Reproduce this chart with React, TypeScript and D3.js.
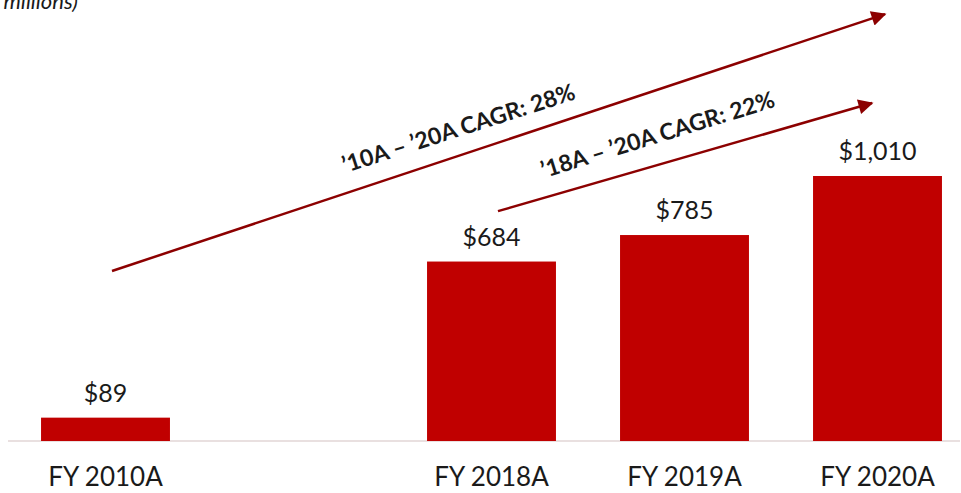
import React from "react";
import * as d3 from "d3";

const categories = ["FY 2010A", "", "FY 2018A", "FY 2019A", "FY 2020A"];
const values: (number | null)[] = [89, null, 684, 785, 1010];
const valueLabels = ["$89", "", "$684", "$785", "$1,010"];
const unitNote = "(US$ in millions)";

// CAGR annotations: [fromCategory, fromValue, toCategory, toValue, label]
const cagrFrom = ["FY 2010A", "FY 2018A"];
const cagrTo = ["FY 2020A", "FY 2020A"];
const cagrFromValues = [648, 876];
const cagrToValues = [1627, 1288];
const cagrLabels = ["\u201910A \u2013 \u201920A CAGR: 28%", "\u201918A \u2013 \u201920A CAGR: 22%"];

const W = 961;
const H = 493;
const FONT = "Lato, 'Open Sans', sans-serif";

export default function App() {
  const x = d3
    .scaleBand<string>()
    .domain(categories.map((c, i) => c || `gap${i}`))
    .range([9, 974])
    .paddingInner(0.332)
    .paddingOuter(0.166);
  const y = d3.scaleLinear().domain([0, 1010]).range([441, 176]);
  const key = (c: string, i: number) => c || `gap${i}`;
  const cx = (c: string) => (x(c) as number) + x.bandwidth() / 2;

  const arrowOffsets = [
    [6.5, 7.5],
    [6.5, -5.5],
  ];
  const textOffsets = [19, 22];

  return (
    <svg
      width={W}
      height={H}
      style={{ position: "absolute", left: 0, top: 0, background: "#fff" }}
      fontFamily={FONT}
    >
      <defs>
        <marker
          id="ah"
          viewBox="0 0 10 10"
          refX="9"
          refY="5"
          markerWidth="17"
          markerHeight="15"
          markerUnits="userSpaceOnUse"
          orient="auto"
        >
          <path d="M0,0 L10,5 L0,10 z" fill="#8c0000" />
        </marker>
      </defs>
      <text x={78} y={9} textAnchor="end" fontStyle="italic" fontSize={22} fill="#1a1a1a">
        {unitNote}
      </text>
      <line x1={8} x2={960} y1={y(0)} y2={y(0)} stroke="#e2d6d6" strokeWidth={1.5} />
      {categories.map((c, i) => {
        const v = values[i];
        if (v == null) return null;
        const k = key(c, i);
        return (
          <g key={k}>
            <rect
              x={x(k)}
              y={y(v)}
              width={x.bandwidth()}
              height={y(0) - y(v)}
              fill="#c00000"
            />
            <text
              x={cx(k)}
              y={y(v) - 16}
              textAnchor="middle"
              fontSize={25}
              fill="#1a1a1a"
            >
              {valueLabels[i]}
            </text>
            <text x={cx(k)} y={486} textAnchor="middle" fontSize={26} fill="#1a1a1a">
              {c}
            </text>
          </g>
        );
      })}
      {cagrLabels.map((lab, i) => {
        const x1 = cx(cagrFrom[i]) + arrowOffsets[i][0];
        const x2 = cx(cagrTo[i]) + arrowOffsets[i][1];
        const y1 = y(cagrFromValues[i]);
        const y2 = y(cagrToValues[i]);
        const ang = (Math.atan2(y2 - y1, x2 - x1) * 180) / Math.PI;
        const tx = i === 0 ? 461 : 660;
        const t = (tx - x1) / (x2 - x1);
        const ly = y1 + t * (y2 - y1) - textOffsets[i];
        return (
          <g key={lab}>
            <line
              x1={x1}
              y1={y1}
              x2={x2}
              y2={y2}
              stroke="#8c0000"
              strokeWidth={2.5}
              markerEnd="url(#ah)"
            />
            <text
              transform={`translate(${tx},${ly}) rotate(${ang + (i === 0 ? 0.6 : -1)})`}
              textAnchor="middle"
              fontSize={23}
              fontWeight="bold"
              fill="#1a1a1a"
            >
              {lab}
            </text>
          </g>
        );
      })}
    </svg>
  );
}
